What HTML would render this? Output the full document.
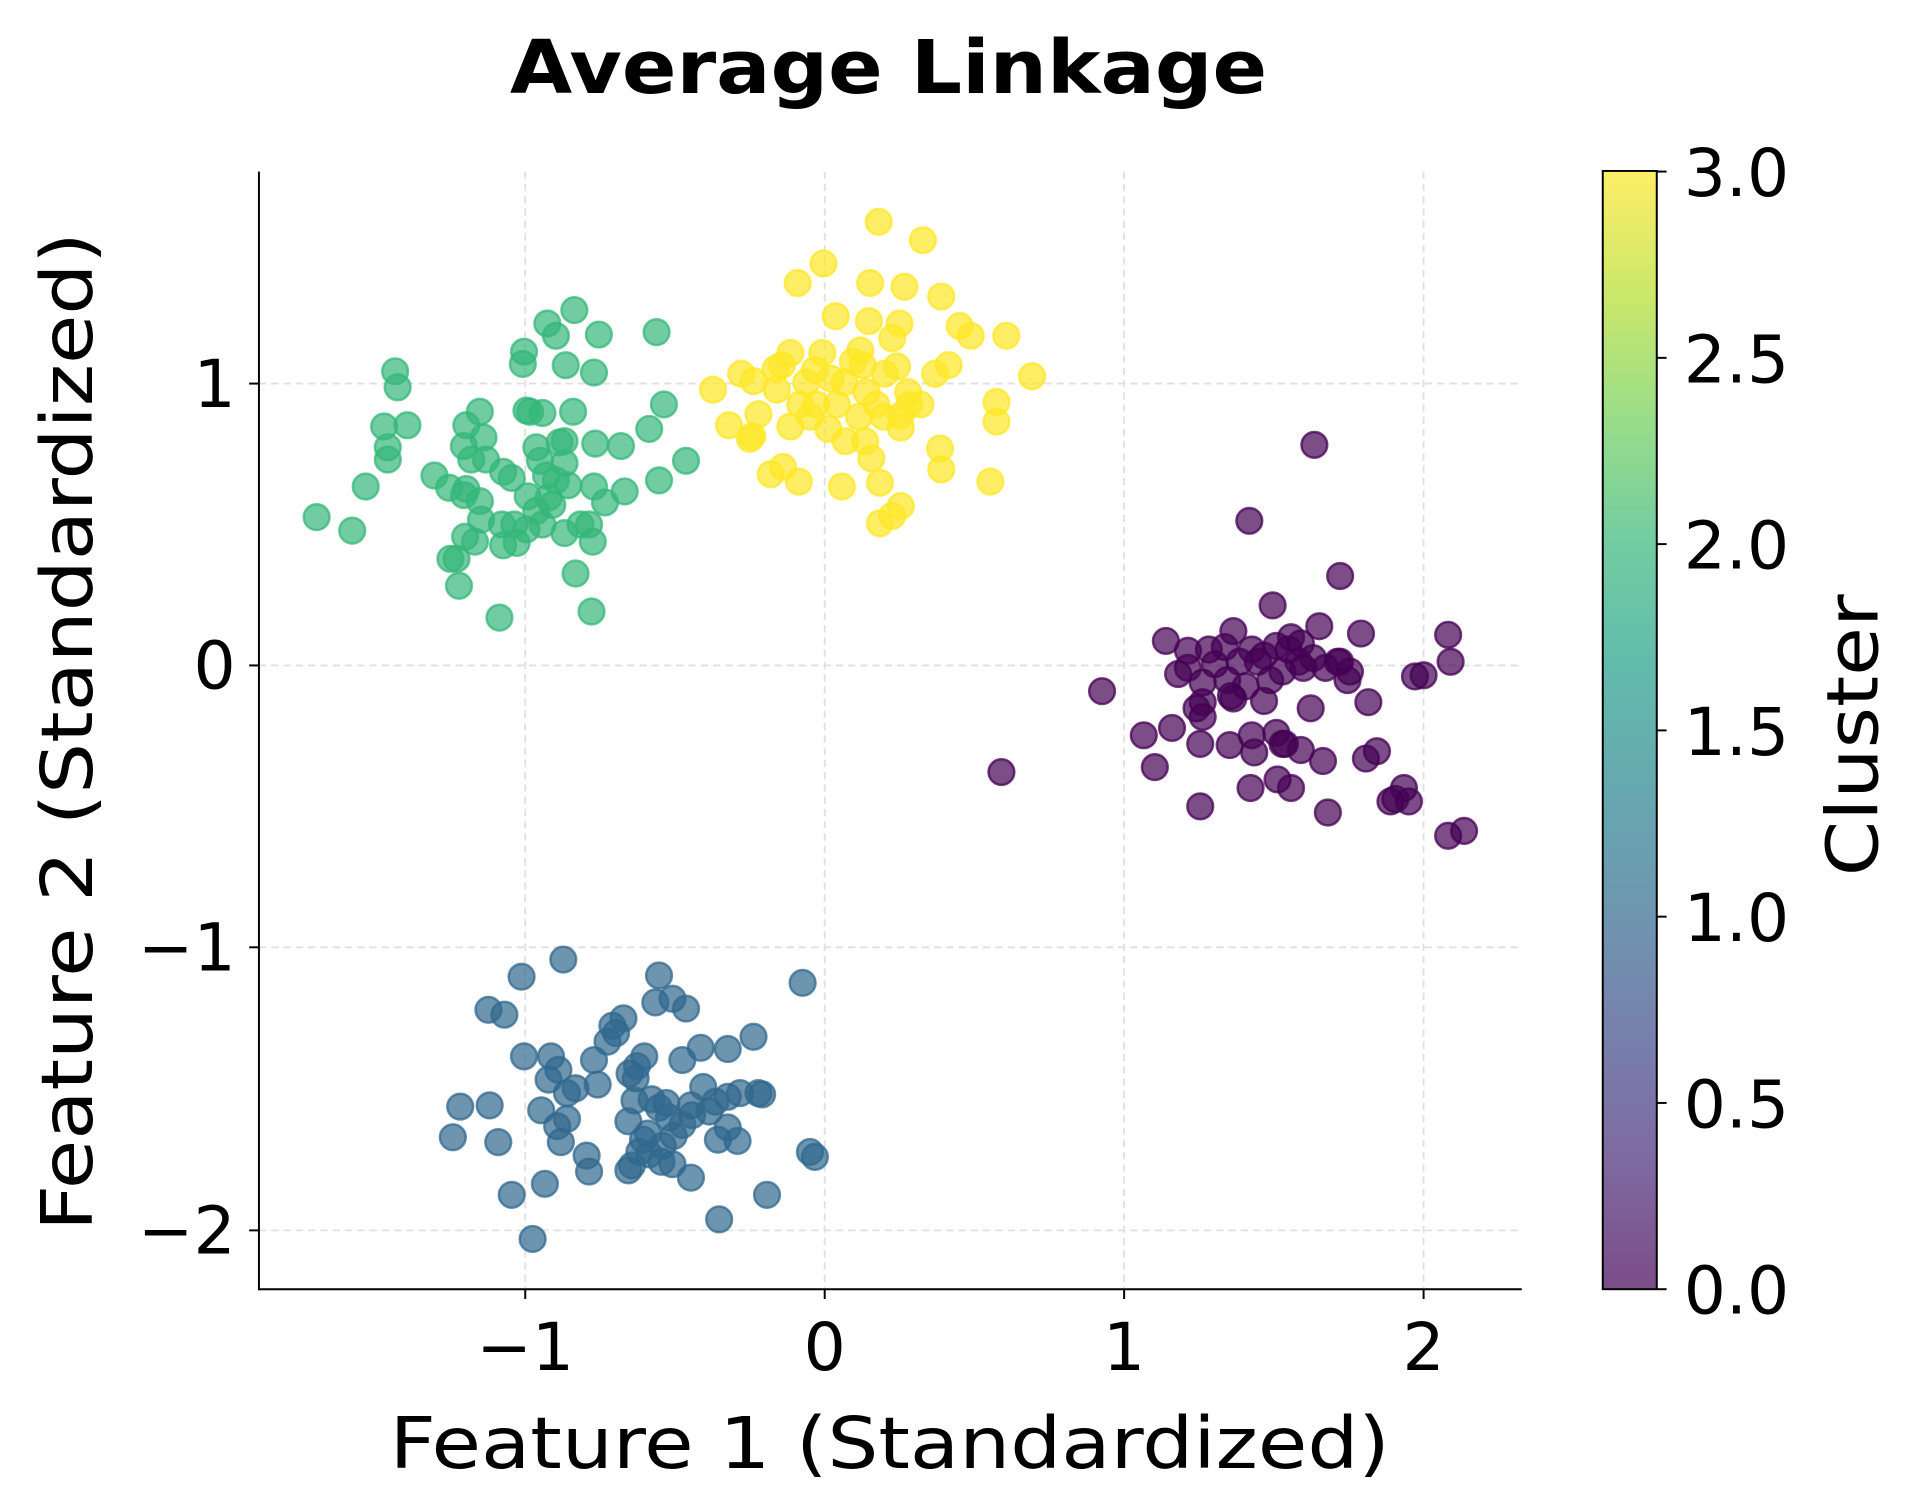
<!DOCTYPE html>
<html><head><meta charset="utf-8"><style>
html,body{margin:0;padding:0;background:#fff;width:1920px;height:1512px;overflow:hidden;}
svg{display:block;}
text{font-family:"DejaVu Sans","Liberation Sans",sans-serif;fill:#000;}
</style></head><body>
<svg width="1920" height="1512" viewBox="0 0 1564.5 1233.8" preserveAspectRatio="none" overflow="hidden" xmlns="http://www.w3.org/2000/svg">
<defs>
<linearGradient id="vir" x1="0" y1="1" x2="0" y2="0">
<stop offset="0" stop-color="#440154"/><stop offset="0.111" stop-color="#482878"/><stop offset="0.222" stop-color="#3e4989"/><stop offset="0.333" stop-color="#31688e"/><stop offset="0.444" stop-color="#26828e"/><stop offset="0.556" stop-color="#1f9e89"/><stop offset="0.667" stop-color="#35b779"/><stop offset="0.778" stop-color="#6ece58"/><stop offset="0.889" stop-color="#b5de2b"/><stop offset="1" stop-color="#fde725"/>
</linearGradient>
</defs>
<rect width="1564.5" height="1233.8" fill="#fff"/>
<g stroke="#e0e0e0" stroke-width="1.5" stroke-dasharray="6,4">
<line x1="428" y1="140" x2="428" y2="1052"/><line x1="672" y1="140" x2="672" y2="1052"/><line x1="916" y1="140" x2="916" y2="1052"/><line x1="1160" y1="140" x2="1160" y2="1052"/>
<line x1="211" y1="313" x2="1240" y2="313"/><line x1="211" y1="543" x2="1240" y2="543"/><line x1="211" y1="773" x2="1240" y2="773"/><line x1="211" y1="1004" x2="1240" y2="1004"/>
</g>
<g id="pts" stroke-width="2">
<g fill="#440154" fill-opacity="0.7" stroke="#440154" stroke-opacity="0.75">
<circle cx="1071" cy="363" r="10.5"/><circle cx="1018" cy="425" r="10.5"/><circle cx="1092" cy="470" r="10.5"/><circle cx="1037" cy="494" r="10.5"/><circle cx="898" cy="564" r="10.5"/><circle cx="816" cy="630" r="10.5"/><circle cx="950" cy="523" r="10.5"/><circle cx="968" cy="531" r="10.5"/><circle cx="1075" cy="511" r="10.5"/><circle cx="1109" cy="517" r="10.5"/><circle cx="1180" cy="518" r="10.5"/><circle cx="1182" cy="540" r="10.5"/><circle cx="1160" cy="551" r="10.5"/><circle cx="1153" cy="552" r="10.5"/><circle cx="1115" cy="573" r="10.5"/><circle cx="1113" cy="619" r="10.5"/><circle cx="1122" cy="613" r="10.5"/><circle cx="1082" cy="663" r="10.5"/><circle cx="1137" cy="652" r="10.5"/><circle cx="1144" cy="643" r="10.5"/><circle cx="1133" cy="654" r="10.5"/><circle cx="1148" cy="654" r="10.5"/><circle cx="1180" cy="682" r="10.5"/><circle cx="1193" cy="678" r="10.5"/><circle cx="1078" cy="621" r="10.5"/><circle cx="1052" cy="643" r="10.5"/><circle cx="1041" cy="636" r="10.5"/><circle cx="1019" cy="643" r="10.5"/><circle cx="978" cy="658" r="10.5"/><circle cx="941" cy="626" r="10.5"/><circle cx="932" cy="600" r="10.5"/><circle cx="955" cy="594" r="10.5"/><circle cx="978" cy="607" r="10.5"/><circle cx="980" cy="585" r="10.5"/><circle cx="1002" cy="608" r="10.5"/><circle cx="1020" cy="600" r="10.5"/><circle cx="1022" cy="614" r="10.5"/><circle cx="1040" cy="598" r="10.5"/><circle cx="1045" cy="607" r="10.5"/><circle cx="1060" cy="612" r="10.5"/><circle cx="1068" cy="578" r="10.5"/><circle cx="1047" cy="607" r="10.5"/><circle cx="1030" cy="572" r="10.5"/><circle cx="1005" cy="570" r="10.5"/><circle cx="980" cy="573" r="10.5"/><circle cx="980" cy="557" r="10.5"/><circle cx="960" cy="550" r="10.5"/><circle cx="968" cy="545" r="10.5"/><circle cx="985" cy="530" r="10.5"/><circle cx="998" cy="528" r="10.5"/><circle cx="1005" cy="515" r="10.5"/><circle cx="1020" cy="530" r="10.5"/><circle cx="1030" cy="535" r="10.5"/><circle cx="1040" cy="527" r="10.5"/><circle cx="1050" cy="530" r="10.5"/><circle cx="1060" cy="525" r="10.5"/><circle cx="1070" cy="537" r="10.5"/><circle cx="1080" cy="545" r="10.5"/><circle cx="1090" cy="540" r="10.5"/><circle cx="1098" cy="555" r="10.5"/><circle cx="1100" cy="548" r="10.5"/><circle cx="1045" cy="548" r="10.5"/><circle cx="1035" cy="555" r="10.5"/><circle cx="1010" cy="540" r="10.5"/><circle cx="990" cy="542" r="10.5"/><circle cx="975" cy="578" r="10.5"/><circle cx="1025" cy="540" r="10.5"/><circle cx="1058" cy="540" r="10.5"/><circle cx="1000" cy="555" r="10.5"/><circle cx="1015" cy="560" r="10.5"/><circle cx="1052" cy="520" r="10.5"/><circle cx="1092" cy="540" r="10.5"/><circle cx="1062" cy="545" r="10.5"/><circle cx="1003" cy="568" r="10.5"/>
</g>
<g fill="#31688e" fill-opacity="0.7" stroke="#31688e" stroke-opacity="0.75">
<circle cx="459" cy="783" r="10.5"/><circle cx="425" cy="797" r="10.5"/><circle cx="537" cy="796" r="10.5"/><circle cx="548" cy="815" r="10.5"/><circle cx="534" cy="818" r="10.5"/><circle cx="559" cy="823" r="10.5"/><circle cx="654" cy="802" r="10.5"/><circle cx="398" cy="824" r="10.5"/><circle cx="411" cy="828" r="10.5"/><circle cx="508" cy="831" r="10.5"/><circle cx="499" cy="837" r="10.5"/><circle cx="502" cy="843" r="10.5"/><circle cx="495" cy="850" r="10.5"/><circle cx="614" cy="846" r="10.5"/><circle cx="571" cy="855" r="10.5"/><circle cx="593" cy="856" r="10.5"/><circle cx="427" cy="862" r="10.5"/><circle cx="449" cy="862" r="10.5"/><circle cx="484" cy="865" r="10.5"/><circle cx="525" cy="862" r="10.5"/><circle cx="519" cy="870" r="10.5"/><circle cx="556" cy="865" r="10.5"/><circle cx="455" cy="873" r="10.5"/><circle cx="447" cy="881" r="10.5"/><circle cx="513" cy="876" r="10.5"/><circle cx="518" cy="880" r="10.5"/><circle cx="469" cy="888" r="10.5"/><circle cx="462" cy="892" r="10.5"/><circle cx="487" cy="885" r="10.5"/><circle cx="573" cy="887" r="10.5"/><circle cx="603" cy="892" r="10.5"/><circle cx="593" cy="895" r="10.5"/><circle cx="618" cy="892" r="10.5"/><circle cx="621" cy="893" r="10.5"/><circle cx="375" cy="903" r="10.5"/><circle cx="399" cy="902" r="10.5"/><circle cx="517" cy="898" r="10.5"/><circle cx="531" cy="897" r="10.5"/><circle cx="543" cy="900" r="10.5"/><circle cx="563" cy="902" r="10.5"/><circle cx="583" cy="899" r="10.5"/><circle cx="441" cy="906" r="10.5"/><circle cx="462" cy="913" r="10.5"/><circle cx="454" cy="919" r="10.5"/><circle cx="537" cy="904" r="10.5"/><circle cx="545" cy="912" r="10.5"/><circle cx="556" cy="918" r="10.5"/><circle cx="564" cy="910" r="10.5"/><circle cx="578" cy="907" r="10.5"/><circle cx="369" cy="928" r="10.5"/><circle cx="406" cy="932" r="10.5"/><circle cx="457" cy="932" r="10.5"/><circle cx="512" cy="915" r="10.5"/><circle cx="524" cy="930" r="10.5"/><circle cx="528" cy="925" r="10.5"/><circle cx="549" cy="927" r="10.5"/><circle cx="593" cy="920" r="10.5"/><circle cx="601" cy="931" r="10.5"/><circle cx="478" cy="943" r="10.5"/><circle cx="521" cy="940" r="10.5"/><circle cx="529" cy="942" r="10.5"/><circle cx="539" cy="948" r="10.5"/><circle cx="515" cy="951" r="10.5"/><circle cx="512" cy="955" r="10.5"/><circle cx="548" cy="950" r="10.5"/><circle cx="660" cy="940" r="10.5"/><circle cx="664" cy="944" r="10.5"/><circle cx="563" cy="961" r="10.5"/><circle cx="444" cy="966" r="10.5"/><circle cx="480" cy="956" r="10.5"/><circle cx="417" cy="975" r="10.5"/><circle cx="625" cy="975" r="10.5"/><circle cx="586" cy="995" r="10.5"/><circle cx="434" cy="1011" r="10.5"/><circle cx="540" cy="935" r="10.5"/><circle cx="585" cy="930" r="10.5"/>
</g>
<g fill="#35b779" fill-opacity="0.7" stroke="#35b779" stroke-opacity="0.75">
<circle cx="468" cy="253" r="10.5"/><circle cx="446" cy="264" r="10.5"/><circle cx="453" cy="274" r="10.5"/><circle cx="488" cy="273" r="10.5"/><circle cx="535" cy="271" r="10.5"/><circle cx="427" cy="287" r="10.5"/><circle cx="426" cy="297" r="10.5"/><circle cx="461" cy="298" r="10.5"/><circle cx="484" cy="304" r="10.5"/><circle cx="322" cy="303" r="10.5"/><circle cx="324" cy="316" r="10.5"/><circle cx="391" cy="336" r="10.5"/><circle cx="432" cy="336" r="10.5"/><circle cx="442" cy="337" r="10.5"/><circle cx="467" cy="336" r="10.5"/><circle cx="313" cy="348" r="10.5"/><circle cx="332" cy="347" r="10.5"/><circle cx="380" cy="347" r="10.5"/><circle cx="394" cy="357" r="10.5"/><circle cx="378" cy="364" r="10.5"/><circle cx="429" cy="335" r="10.5"/><circle cx="316" cy="365" r="10.5"/><circle cx="316" cy="375" r="10.5"/><circle cx="354" cy="388" r="10.5"/><circle cx="366" cy="398" r="10.5"/><circle cx="380" cy="399" r="10.5"/><circle cx="384" cy="375" r="10.5"/><circle cx="417" cy="390" r="10.5"/><circle cx="437" cy="365" r="10.5"/><circle cx="456" cy="361" r="10.5"/><circle cx="460" cy="360" r="10.5"/><circle cx="485" cy="362" r="10.5"/><circle cx="506" cy="364" r="10.5"/><circle cx="529" cy="350" r="10.5"/><circle cx="541" cy="330" r="10.5"/><circle cx="559" cy="376" r="10.5"/><circle cx="537" cy="392" r="10.5"/><circle cx="509" cy="401" r="10.5"/><circle cx="493" cy="410" r="10.5"/><circle cx="484" cy="397" r="10.5"/><circle cx="298" cy="397" r="10.5"/><circle cx="258" cy="422" r="10.5"/><circle cx="287" cy="433" r="10.5"/><circle cx="378" cy="404" r="10.5"/><circle cx="391" cy="409" r="10.5"/><circle cx="392" cy="424" r="10.5"/><circle cx="409" cy="428" r="10.5"/><circle cx="419" cy="428" r="10.5"/><circle cx="429" cy="432" r="10.5"/><circle cx="437" cy="417" r="10.5"/><circle cx="447" cy="406" r="10.5"/><circle cx="453" cy="392" r="10.5"/><circle cx="460" cy="378" r="10.5"/><circle cx="463" cy="396" r="10.5"/><circle cx="450" cy="412" r="10.5"/><circle cx="473" cy="428" r="10.5"/><circle cx="480" cy="428" r="10.5"/><circle cx="483" cy="442" r="10.5"/><circle cx="460" cy="435" r="10.5"/><circle cx="442" cy="428" r="10.5"/><circle cx="410" cy="445" r="10.5"/><circle cx="421" cy="443" r="10.5"/><circle cx="372" cy="456" r="10.5"/><circle cx="387" cy="442" r="10.5"/><circle cx="379" cy="438" r="10.5"/><circle cx="367" cy="456" r="10.5"/><circle cx="374" cy="478" r="10.5"/><circle cx="469" cy="468" r="10.5"/><circle cx="482" cy="499" r="10.5"/><circle cx="407" cy="504" r="10.5"/><circle cx="440" cy="376" r="10.5"/><circle cx="445" cy="388" r="10.5"/><circle cx="396" cy="375" r="10.5"/><circle cx="410" cy="385" r="10.5"/><circle cx="430" cy="405" r="10.5"/>
</g>
<g fill="#fde725" fill-opacity="0.7" stroke="#fde725" stroke-opacity="0.75">
<circle cx="716" cy="181" r="10.5"/><circle cx="752" cy="196" r="10.5"/><circle cx="671" cy="215" r="10.5"/><circle cx="650" cy="231" r="10.5"/><circle cx="709" cy="231" r="10.5"/><circle cx="737" cy="234" r="10.5"/><circle cx="767" cy="242" r="10.5"/><circle cx="681" cy="258" r="10.5"/><circle cx="708" cy="262" r="10.5"/><circle cx="733" cy="264" r="10.5"/><circle cx="782" cy="266" r="10.5"/><circle cx="791" cy="274" r="10.5"/><circle cx="820" cy="274" r="10.5"/><circle cx="727" cy="276" r="10.5"/><circle cx="701" cy="286" r="10.5"/><circle cx="670" cy="288" r="10.5"/><circle cx="644" cy="288" r="10.5"/><circle cx="637" cy="298" r="10.5"/><circle cx="632" cy="301" r="10.5"/><circle cx="703" cy="298" r="10.5"/><circle cx="731" cy="299" r="10.5"/><circle cx="773" cy="298" r="10.5"/><circle cx="762" cy="305" r="10.5"/><circle cx="604" cy="305" r="10.5"/><circle cx="614" cy="311" r="10.5"/><circle cx="664" cy="302" r="10.5"/><circle cx="657" cy="312" r="10.5"/><circle cx="677" cy="309" r="10.5"/><circle cx="688" cy="312" r="10.5"/><circle cx="721" cy="305" r="10.5"/><circle cx="841" cy="307" r="10.5"/><circle cx="581" cy="318" r="10.5"/><circle cx="633" cy="318" r="10.5"/><circle cx="706" cy="320" r="10.5"/><circle cx="812" cy="328" r="10.5"/><circle cx="652" cy="330" r="10.5"/><circle cx="665" cy="330" r="10.5"/><circle cx="682" cy="330" r="10.5"/><circle cx="714" cy="330" r="10.5"/><circle cx="741" cy="330" r="10.5"/><circle cx="734" cy="339" r="10.5"/><circle cx="618" cy="338" r="10.5"/><circle cx="594" cy="347" r="10.5"/><circle cx="613" cy="356" r="10.5"/><circle cx="644" cy="348" r="10.5"/><circle cx="689" cy="360" r="10.5"/><circle cx="734" cy="349" r="10.5"/><circle cx="812" cy="344" r="10.5"/><circle cx="766" cy="366" r="10.5"/><circle cx="710" cy="374" r="10.5"/><circle cx="767" cy="383" r="10.5"/><circle cx="807" cy="393" r="10.5"/><circle cx="628" cy="387" r="10.5"/><circle cx="638" cy="381" r="10.5"/><circle cx="651" cy="393" r="10.5"/><circle cx="686" cy="397" r="10.5"/><circle cx="717" cy="394" r="10.5"/><circle cx="734" cy="413" r="10.5"/><circle cx="717" cy="427" r="10.5"/><circle cx="727" cy="421" r="10.5"/><circle cx="611" cy="358" r="10.5"/><circle cx="700" cy="340" r="10.5"/><circle cx="695" cy="295" r="10.5"/><circle cx="750" cy="330" r="10.5"/><circle cx="740" cy="320" r="10.5"/><circle cx="660" cy="340" r="10.5"/><circle cx="675" cy="350" r="10.5"/><circle cx="720" cy="340" r="10.5"/><circle cx="705" cy="360" r="10.5"/>
</g>
</g>
<g stroke="#000" stroke-width="1.6" fill="none">
<line x1="211" y1="140" x2="211" y2="1052.8"/><line x1="210.2" y1="1052" x2="1240" y2="1052"/>
<line x1="428" y1="1052" x2="428" y2="1060"/><line x1="672" y1="1052" x2="672" y2="1060"/><line x1="916" y1="1052" x2="916" y2="1060"/><line x1="1160" y1="1052" x2="1160" y2="1060"/>
<line x1="203" y1="313" x2="211" y2="313"/><line x1="203" y1="543" x2="211" y2="543"/><line x1="203" y1="773" x2="211" y2="773"/><line x1="203" y1="1004" x2="211" y2="1004"/>
</g>
<g font-size="54">
<text x="428" y="1118" text-anchor="middle">−1</text><text x="672" y="1118" text-anchor="middle">0</text><text x="916" y="1118" text-anchor="middle">1</text><text x="1160" y="1118" text-anchor="middle">2</text>
<text x="192" y="332" text-anchor="end">1</text><text x="192" y="562" text-anchor="end">0</text><text x="192" y="792" text-anchor="end">−1</text><text x="192" y="1023" text-anchor="end">−2</text>
</g>
<text x="725" y="1198" text-anchor="middle" font-size="58" textLength="815" lengthAdjust="spacingAndGlyphs">Feature 1 (Standardized)</text>
<text transform="translate(75,597) rotate(-90)" text-anchor="middle" font-size="58" textLength="815" lengthAdjust="spacingAndGlyphs">Feature 2 (Standardized)</text>
<text x="724" y="76" text-anchor="middle" font-size="60" font-weight="bold" textLength="617" lengthAdjust="spacingAndGlyphs">Average Linkage</text>
<rect x="1306" y="139.5" width="44" height="912.5" fill="url(#vir)" fill-opacity="0.7"/>
<rect x="1306" y="139.5" width="44" height="912.5" fill="none" stroke="#000" stroke-width="1.6"/>
<g stroke="#000" stroke-width="1.6">
<line x1="1350" y1="140" x2="1358" y2="140"/><line x1="1350" y1="292" x2="1358" y2="292"/><line x1="1350" y1="444" x2="1358" y2="444"/><line x1="1350" y1="596" x2="1358" y2="596"/><line x1="1350" y1="748" x2="1358" y2="748"/><line x1="1350" y1="900" x2="1358" y2="900"/><line x1="1350" y1="1052" x2="1358" y2="1052"/>
</g>
<g font-size="54">
<text x="1372" y="160">3.0</text><text x="1372" y="312">2.5</text><text x="1372" y="464">2.0</text><text x="1372" y="616">1.5</text><text x="1372" y="768">1.0</text><text x="1372" y="920">0.5</text><text x="1372" y="1072">0.0</text>
</g>
<text transform="translate(1530,600) rotate(-90)" text-anchor="middle" font-size="58" textLength="230" lengthAdjust="spacingAndGlyphs">Cluster</text>
</svg>
</body></html>
